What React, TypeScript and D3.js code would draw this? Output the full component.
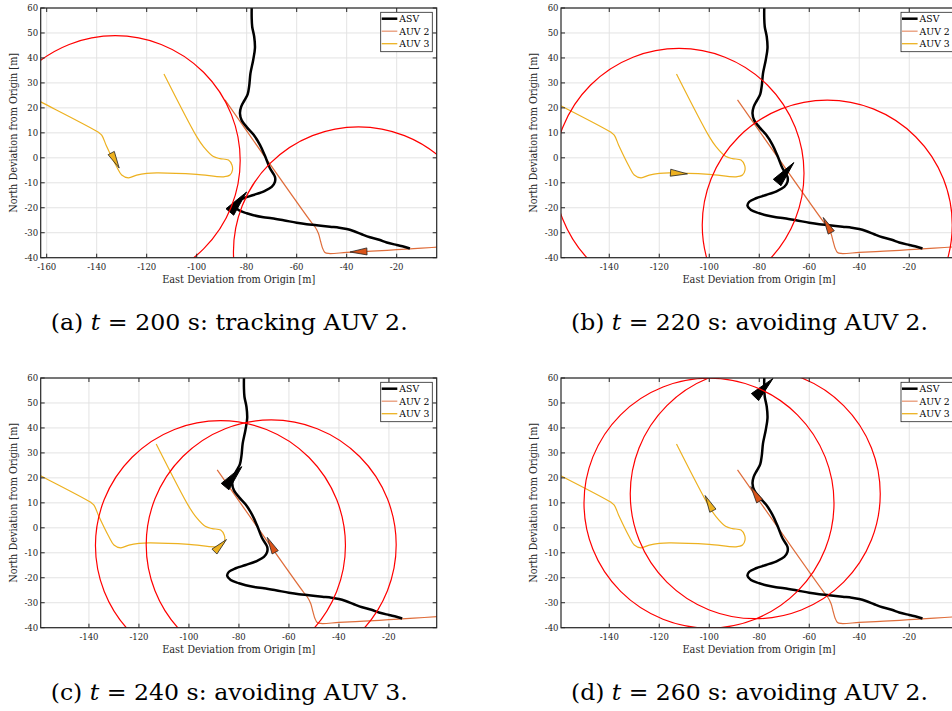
import React from 'react';
import * as d3 from 'd3';

type Pt = [number, number];

// ASV trajectory (East, North) in metres
const asvPath: Pt[] = [
  [-14.7, -36.3], [-17, -35.6], [-20, -34.9], [-24, -33.9], [-27, -32.8], [-30.7, -31.8], [-34, -30.6],
  [-37.3, -29.3], [-40, -28.5], [-43, -28.0], [-46.7, -27.6], [-52, -27.0], [-56, -26.6], [-60, -26.0],
  [-65.3, -25.0], [-70, -24.2], [-73.3, -23.8], [-77.3, -23.0], [-80, -22.2], [-83.3, -20.9], [-84.7, -19.2],
  [-84, -17.6], [-81.3, -16.2], [-77.3, -14.9], [-72.7, -13.2], [-70, -11.6], [-68.7, -9.6], [-68.7, -7.6],
  [-70.7, -4.2], [-72.7, 0.8], [-74.7, 5.2], [-77.3, 9.3], [-80, 12.3], [-82, 15.0], [-82.7, 17.8],
  [-82.2, 20.5], [-80.9, 23.0], [-79.6, 25.5], [-79, 28.8], [-78.5, 33.8], [-77.4, 39.2], [-76.7, 44.0],
  [-77.0, 48.5], [-77.8, 52.5], [-78, 56], [-78, 60]
];

// AUV 2 trajectory
const auv2Path: Pt[] = [
  [0, -35.5], [-10, -36.2], [-20, -36.8], [-30, -37.4], [-40, -37.9], [-47.3, -38.3], [-48.7, -37.9],
  [-49.6, -36.3], [-50.4, -33.6], [-51.3, -30.3], [-52.7, -27.6], [-54, -26], [-88.7, 23.2]
];

// AUV 3 trajectory
const auv3Path: Pt[] = [
  [-165, 23.8], [-162, 22.2], [-139.3, 10.2], [-138, 9.1], [-136, 4.5], [-132, -3.6], [-130, -6.9],
  [-127.3, -8.0], [-124, -6.9], [-120, -6.2], [-116, -6.0], [-100, -6.6], [-89.3, -7.6], [-86.7, -6.9],
  [-85.7, -4.9], [-85.9, -2.9], [-87.3, -0.9], [-90.7, -0.3], [-93.3, 0.5], [-97.3, 4.5], [-100, 8.5],
  [-113.1, 33.6]
];

const panelIds = ['a', 'b', 'c', 'd'];
const times = [200, 220, 240, 260];
const captionTexts = ['tracking AUV 2.', 'avoiding AUV 2.', 'avoiding AUV 3.', 'avoiding AUV 2.'];
const xDomains: Pt[] = [[-162.4, -4.0], [-159.3, -0.9], [-159.3, -0.9], [-159.3, -0.9]];
const yDomain: Pt = [-40, 60];
const xTickValues = [-160, -140, -120, -100, -80, -60, -40, -20];
const yTickValues = [-40, -30, -20, -10, 0, 10, 20, 30, 40, 50, 60];

// vehicle positions (marker centres) and headings (deg, from East, CCW) per panel
const asvPos: Pt[] = [[-83.4, -17.7], [-69.5, -5.9], [-82.2, 20.5], [-78.1, 56.1]];
const asvHeading = [50, 50, 50, 46];
const auv2Pos: Pt[] = [[-35.3, -37.6], [-52.8, -26.9], [-67.1, -6.8], [-81.6, 13.6]];
const auv2Heading = [182, 118, 118, 121];
const auv3Pos: Pt[] = [[-132.6, -1.1], [-112.1, -6.2], [-87.4, -7.1], [-100.1, 9.9]];
const auv3Heading = [-62, -4, 45, 117];
const safetyRadius = 50;

const legendNames = ['ASV', 'AUV 2', 'AUV 3'];

const W = 396;
const H = 249.7;
const lefts = [40.7, 561, 40.7, 561];
const tops = [8, 8, 378, 378];

const FONT = "'DejaVu Serif', 'Liberation Serif', serif";
const AX = '#262626';
const C_ASV = '#000000';
const C_AUV2 = '#d95319';
const C_AUV3 = '#edb120';

function tri(cx: number, cy: number, headingDeg: number, L: number, Wd: number) {
  const t = (headingDeg * Math.PI) / 180;
  const dx = Math.cos(t);
  const dy = -Math.sin(t);
  const nx = -dy;
  const ny = dx;
  const tip: Pt = [cx + dx * L / 2, cy + dy * L / 2];
  const bx = cx - dx * L / 2;
  const by = cy - dy * L / 2;
  const b1: Pt = [bx + nx * Wd / 2, by + ny * Wd / 2];
  const b2: Pt = [bx - nx * Wd / 2, by - ny * Wd / 2];
  return `M${tip[0]},${tip[1]}L${b1[0]},${b1[1]}L${b2[0]},${b2[1]}Z`;
}

function Panel({ i }: { i: number }) {
  const left = lefts[i];
  const top = tops[i];
  const x = d3.scaleLinear().domain(xDomains[i]).range([0, W]);
  const y = d3.scaleLinear().domain(yDomain).range([H, 0]);
  const line = d3.line<Pt>().x(d => x(d[0])).y(d => y(d[1])).curve(d3.curveCatmullRom.alpha(0.5));
  const xt = xTickValues.filter(v => v >= xDomains[i][0] && v <= xDomains[i][1]);
  const rx = Math.abs(x(safetyRadius) - x(0));
  const ry = Math.abs(y(safetyRadius) - y(0));
  const clipId = `clip-${panelIds[i]}`;
  const tickLen = 4;
  const legX = W - 4.4 - 51.6;
  const legY = 4.3;
  const legendColors = [C_ASV, C_AUV2, C_AUV3];
  const legendWidths = [2.5, 1.3, 1.3];
  const legendOpac = [1, 0.6, 1];
  return (
    <g transform={`translate(${left},${top})`}>
      <defs>
        <clipPath id={clipId}>
          <rect x={0} y={0} width={W} height={H} />
        </clipPath>
      </defs>
      <rect x={0} y={0} width={W} height={H} fill="#fff" />
      {/* grid */}
      {xt.map(v => (
        <line key={'gx' + v} x1={x(v)} x2={x(v)} y1={0} y2={H} stroke="#e3e3e3" strokeWidth={1} />
      ))}
      {yTickValues.map(v => (
        <line key={'gy' + v} x1={0} x2={W} y1={y(v)} y2={y(v)} stroke="#e3e3e3" strokeWidth={1} />
      ))}
      <g clipPath={`url(#${clipId})`}>
        <path d={line(auv3Path) || ''} fill="none" stroke={C_AUV3} strokeWidth={1.2} />
        <path d={line(auv2Path) || ''} fill="none" stroke={C_AUV2} strokeOpacity={0.85} strokeWidth={1.2} />
        <path d={line(asvPath) || ''} fill="none" stroke={C_ASV} strokeWidth={2.5} strokeLinejoin="round" />
        <path d={tri(x(auv3Pos[i][0]), y(auv3Pos[i][1]), auv3Heading[i], 17, 7)} fill={C_AUV3} stroke="#222" strokeWidth={0.8} />
        <path d={tri(x(auv2Pos[i][0]), y(auv2Pos[i][1]), auv2Heading[i], 17, 7)} fill={C_AUV2} stroke="#222" strokeWidth={0.8} />
        <path d={tri(x(asvPos[i][0]), y(asvPos[i][1]), asvHeading[i], 26, 10)} fill="#000" stroke="#000" strokeWidth={1} />
        <ellipse cx={x(auv3Pos[i][0])} cy={y(auv3Pos[i][1])} rx={rx} ry={ry} fill="none" stroke="#ff0000" strokeWidth={1.2} />
        <ellipse cx={x(auv2Pos[i][0])} cy={y(auv2Pos[i][1])} rx={rx} ry={ry} fill="none" stroke="#ff0000" strokeWidth={1.2} />
      </g>
      {/* ticks */}
      {xt.map(v => (
        <g key={'tx' + v}>
          <line x1={x(v)} x2={x(v)} y1={H} y2={H - tickLen} stroke={AX} strokeWidth={1} />
          <line x1={x(v)} x2={x(v)} y1={0} y2={tickLen} stroke={AX} strokeWidth={1} />
          <text x={x(v)} y={H + 12.5} textAnchor="middle" fontSize={8.5} fill={AX}>{v}</text>
        </g>
      ))}
      {yTickValues.map(v => (
        <g key={'ty' + v}>
          <line x1={0} x2={tickLen} y1={y(v)} y2={y(v)} stroke={AX} strokeWidth={1} />
          <line x1={W} x2={W - tickLen} y1={y(v)} y2={y(v)} stroke={AX} strokeWidth={1} />
          <text x={-2.5} y={y(v)} dy="0.36em" textAnchor="end" fontSize={8.5} fill={AX}>{v}</text>
        </g>
      ))}
      <rect x={0} y={0} width={W} height={H} fill="none" stroke={AX} strokeWidth={1.2} />
      {/* axis labels */}
      <text x={W / 2} y={275} textAnchor="middle" fontSize={10.2} fill={AX}
        textLength={153} lengthAdjust="spacingAndGlyphs">East Deviation from Origin [m]</text>
      <text transform={`translate(${-24},${H / 2}) rotate(-90)`} textAnchor="middle" fontSize={10.2} fill={AX}
        textLength={160} lengthAdjust="spacingAndGlyphs">
        North Deviation from Origin [m]
      </text>
      {/* legend */}
      <g transform={`translate(${legX},${legY})`}>
        <rect x={0} y={0} width={51.6} height={39.4} fill="#fff" stroke={AX} strokeWidth={0.8} />
        {legendNames.map((n, k) => (
          <g key={n}>
            <line x1={1} x2={16.6} y1={6.4 + k * 12.5} y2={6.4 + k * 12.5} stroke={legendColors[k]}
              strokeOpacity={legendOpac[k]} strokeWidth={legendWidths[k]} />
            <text x={18.6} y={6.4 + k * 12.5} dy="0.36em" fontSize={9.3} fill="#000">{n}</text>
          </g>
        ))}
      </g>
      {/* caption */}
      <text x={188.5} y={322} textAnchor="middle" fontSize={22.5} fill="#000"
        textLength={357} lengthAdjust="spacingAndGlyphs">
        {`(${panelIds[i]}) `}
        <tspan fontStyle="italic">t</tspan>
        {` = ${times[i]} s: ${captionTexts[i]}`}
      </text>
    </g>
  );
}

export default function App() {
  return (
    <svg width={952} height={711} style={{ position: 'absolute', left: 0, top: 0, background: '#fff' }}
      fontFamily={FONT}>
      <rect x={0} y={0} width={952} height={711} fill="#fff" />
      {panelIds.map((_, i) => <Panel key={i} i={i} />)}
    </svg>
  );
}
